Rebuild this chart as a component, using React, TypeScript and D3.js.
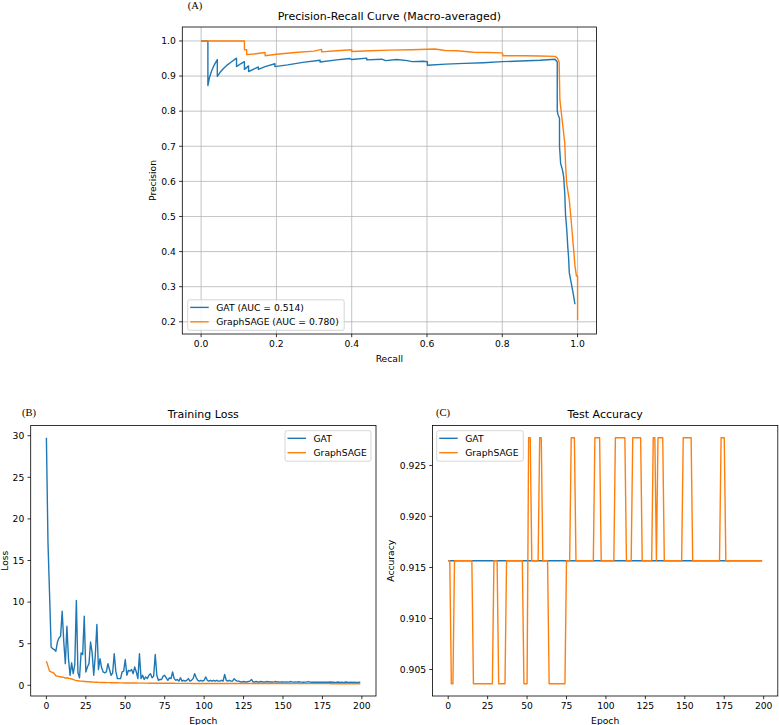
import React from 'react'
import * as d3 from 'd3'

const BLUE = '#1f77b4'
const ORANGE = '#ff7f0e'
const FONT = 'DejaVu Sans, sans-serif'
const SERIF = 'Liberation Serif, Times New Roman, serif'

// (A) precision-recall curve, macro-averaged
const gatRecall = [0.0, 0.018, 0.018, 0.022, 0.028, 0.035, 0.043, 0.043, 0.05, 0.06, 0.07, 0.08, 0.094, 0.094, 0.105, 0.115, 0.115, 0.126, 0.126, 0.14, 0.152, 0.152, 0.17, 0.196, 0.196, 0.23, 0.27, 0.316, 0.316, 0.36, 0.395, 0.4, 0.44, 0.44, 0.48, 0.49, 0.52, 0.548, 0.56, 0.59, 0.601, 0.601, 0.65, 0.7, 0.75, 0.8, 0.85, 0.9, 0.94, 0.946, 0.946, 0.948, 0.952, 0.952, 0.955, 0.96, 0.963, 0.966, 0.968, 0.97, 0.972, 0.974, 0.976, 0.978, 0.985, 0.99, 0.993]
const gatPrecision = [1.0, 1.0, 0.873, 0.895, 0.915, 0.932, 0.947, 0.899, 0.91, 0.922, 0.932, 0.94, 0.951, 0.927, 0.935, 0.941, 0.919, 0.929, 0.913, 0.92, 0.926, 0.919, 0.927, 0.935, 0.927, 0.932, 0.939, 0.945, 0.94, 0.946, 0.95, 0.947, 0.951, 0.946, 0.948, 0.944, 0.947, 0.944, 0.941, 0.942, 0.941, 0.931, 0.934, 0.936, 0.938, 0.941, 0.943, 0.945, 0.948, 0.94, 0.8, 0.79, 0.78, 0.7, 0.651, 0.632, 0.613, 0.565, 0.504, 0.48, 0.45, 0.413, 0.385, 0.34, 0.3, 0.27, 0.25]
const sageRecall = [0.0, 0.115, 0.115, 0.121, 0.121, 0.14, 0.17, 0.17, 0.2, 0.25, 0.3, 0.32, 0.32, 0.36, 0.4, 0.4, 0.45, 0.5, 0.56, 0.621, 0.648, 0.68, 0.723, 0.76, 0.8, 0.802, 0.86, 0.9, 0.94, 0.946, 0.951, 0.953, 0.96, 0.966, 0.968, 0.971, 0.973, 0.978, 0.982, 0.986, 0.99, 0.993, 0.997, 1.0, 1.0]
const sagePrecision = [1.0, 1.0, 0.975, 0.975, 0.961, 0.963, 0.967, 0.958, 0.962, 0.967, 0.971, 0.976, 0.969, 0.972, 0.975, 0.97, 0.972, 0.974, 0.975, 0.977, 0.973, 0.972, 0.968, 0.967, 0.966, 0.958, 0.958, 0.957, 0.956, 0.952, 0.94, 0.832, 0.766, 0.709, 0.65, 0.594, 0.58, 0.547, 0.5, 0.45, 0.4, 0.36, 0.33, 0.33, 0.205]
const prLabels = ['GAT (AUC = 0.514)', 'GraphSAGE (AUC = 0.780)']
const prXTicks = [0.0, 0.2, 0.4, 0.6, 0.8, 1.0]
const prYTicks = [0.2, 0.3, 0.4, 0.5, 0.6, 0.7, 0.8, 0.9, 1.0]

// (B) training loss per epoch
const gatLoss = [
  29.75, 17.2, 11.0, 4.6, 4.4, 4.3, 4.1, 5.2, 5.7, 5.9,
  8.9, 5.3, 2.6, 7.1, 3.2, 1.2, 2.7, 1.4, 2.5, 10.2,
  1.5, 0.9, 3.9, 3.7, 8.3, 1.6, 2.2, 2.6, 5.2, 3.9,
  1.2, 3.6, 7.3, 1.9, 3.2, 2.1, 1.6, 1.5, 1.6, 2.6,
  1.9, 1.2, 1.5, 3.8, 1.7, 0.8, 0.8, 0.8, 1.6, 1.7,
  3.1, 1.2, 1.8, 1.7, 1.9, 1.4, 2.2, 1.6, 0.8, 3.8,
  0.8, 1.2, 0.7, 1.0, 0.8, 1.2, 1.4, 0.9, 1.1, 3.7,
  1.2, 0.6, 0.7, 0.7, 1.1, 1.2, 0.9, 0.6, 0.9, 0.8,
  1.6, 0.8, 0.6, 0.7, 0.5, 0.9, 0.5, 0.6, 0.5, 0.6,
  0.8, 0.5, 0.6, 0.8, 1.4, 0.9, 0.6, 0.5, 0.6, 0.5,
  0.6, 1.0, 0.6, 0.5, 0.6, 0.5, 0.6, 0.5, 0.6, 0.5,
  0.5, 0.6, 0.5, 1.3, 0.6, 0.5, 0.6, 0.5, 0.5, 0.8,
  0.6, 0.5, 0.5, 0.4, 0.4, 0.45, 0.4, 0.4, 0.45, 0.5,
  0.7, 0.4, 0.4, 0.45, 0.4, 0.4, 0.45, 0.4, 0.4, 0.4,
  0.45, 0.4, 0.4, 0.4, 0.38, 0.45, 0.4, 0.4, 0.38, 0.4,
  0.4, 0.38, 0.4, 0.38, 0.4, 0.45, 0.38, 0.38, 0.4, 0.38,
  0.42, 0.38, 0.38, 0.36, 0.38, 0.38, 0.45, 0.38, 0.36, 0.38,
  0.36, 0.38, 0.36, 0.38, 0.36, 0.38, 0.36, 0.36, 0.38, 0.36,
  0.4, 0.36, 0.36, 0.35, 0.36, 0.4, 0.35, 0.36, 0.35, 0.36,
  0.4, 0.35, 0.35, 0.36, 0.35, 0.36, 0.35, 0.35, 0.36, 0.38,
]
const sageLoss = [
  2.9, 2.3, 1.7, 1.6, 1.55, 1.4, 1.15, 1.1, 1.05, 1.0,
  1.0, 0.95, 0.85, 0.9, 0.85, 0.8, 0.75, 0.7, 0.62, 0.58,
  0.55, 0.52, 0.5, 0.48, 0.46, 0.45, 0.43, 0.42, 0.4, 0.39,
  0.38, 0.37, 0.36, 0.35, 0.34, 0.34, 0.33, 0.33, 0.32, 0.32,
  0.32, 0.31, 0.31, 0.3, 0.3, 0.3, 0.29, 0.29, 0.29, 0.28,
  0.28, 0.28, 0.28, 0.27, 0.27, 0.27, 0.27, 0.27, 0.26, 0.26,
  0.26, 0.26, 0.26, 0.26, 0.26, 0.25, 0.25, 0.25, 0.25, 0.25,
  0.25, 0.25, 0.25, 0.24, 0.24, 0.24, 0.24, 0.24, 0.24, 0.24,
  0.24, 0.24, 0.23, 0.23, 0.23, 0.23, 0.23, 0.23, 0.23, 0.23,
  0.23, 0.23, 0.22, 0.22, 0.22, 0.22, 0.22, 0.22, 0.22, 0.22,
  0.22, 0.22, 0.22, 0.22, 0.22, 0.22, 0.22, 0.22, 0.22, 0.22,
  0.22, 0.22, 0.22, 0.22, 0.22, 0.22, 0.22, 0.22, 0.22, 0.22,
  0.21, 0.21, 0.21, 0.21, 0.21, 0.21, 0.21, 0.21, 0.21, 0.21,
  0.21, 0.21, 0.21, 0.21, 0.21, 0.21, 0.21, 0.21, 0.21, 0.21,
  0.21, 0.21, 0.21, 0.21, 0.21, 0.21, 0.21, 0.21, 0.21, 0.21,
  0.2, 0.2, 0.2, 0.2, 0.2, 0.2, 0.2, 0.2, 0.2, 0.2,
  0.2, 0.2, 0.2, 0.2, 0.2, 0.2, 0.2, 0.2, 0.2, 0.2,
  0.2, 0.2, 0.2, 0.2, 0.2, 0.2, 0.2, 0.2, 0.2, 0.2,
  0.19, 0.19, 0.19, 0.19, 0.19, 0.19, 0.19, 0.19, 0.19, 0.19,
  0.19, 0.19, 0.19, 0.19, 0.19, 0.19, 0.19, 0.19, 0.19, 0.19,
]
const lossXTicks = [0, 25, 50, 75, 100, 125, 150, 175, 200]
const lossYTicks = [0, 5, 10, 15, 20, 25, 30]

// (C) test accuracy per epoch (75, 76 or 77 correct out of 83)
const L = 0.90361
const M = 0.91566
const H = 0.92771
const gatAcc = [
  M, M, M, M, M, M, M, M, M, M, M, M, M, M, M, M, M, M, M, M,
  M, M, M, M, M, M, M, M, M, M, M, M, M, M, M, M, M, M, M, M,
  M, M, M, M, M, M, M, M, M, M, M, M, M, M, M, M, M, M, M, M,
  M, M, M, M, M, M, M, M, M, M, M, M, M, M, M, M, M, M, M, M,
  M, M, M, M, M, M, M, M, M, M, M, M, M, M, M, M, M, M, M, M,
  M, M, M, M, M, M, M, M, M, M, M, M, M, M, M, M, M, M, M, M,
  M, M, M, M, M, M, M, M, M, M, M, M, M, M, M, M, M, M, M, M,
  M, M, M, M, M, M, M, M, M, M, M, M, M, M, M, M, M, M, M, M,
  M, M, M, M, M, M, M, M, M, M, M, M, M, M, M, M, M, M, M, M,
  M, M, M, M, M, M, M, M, M, M, M, M, M, M, M, M, M, M, M, M,
]
const sageAcc = [
  M, M, L, L, M, M, M, M, M, M,
  M, M, M, M, M, M, L, L, L, L,
  L, L, L, L, L, L, L, L, L, M,
  M, M, L, L, L, L, L, M, M, M,
  M, M, M, M, M, M, M, M, L, L,
  L, H, H, M, M, M, M, M, H, H,
  M, M, M, M, L, L, L, L, L, L,
  L, L, L, L, L, M, M, M, H, H,
  H, M, M, M, M, M, M, M, M, M,
  M, M, M, H, H, H, H, M, M, M,
  M, M, M, M, M, M, H, H, H, H,
  H, H, H, M, M, M, M, H, H, H,
  H, H, H, M, M, M, M, M, M, M,
  H, H, M, H, H, H, H, M, M, M,
  M, M, M, M, M, M, M, M, M, H,
  H, H, H, H, H, M, M, M, M, M,
  M, M, M, M, M, M, M, M, M, M,
  M, M, M, H, H, H, M, M, M, M,
  M, M, M, M, M, M, M, M, M, M,
  M, M, M, M, M, M, M, M, M, M,
]
const accYTicks = [0.905, 0.91, 0.915, 0.92, 0.925]
const seriesNames = ['GAT', 'GraphSAGE']

// matplotlib-style 5% margins
const padded = (vals: number[]): [number, number] => {
  const [lo, hi] = d3.extent(vals) as [number, number]
  const m = (hi - lo) * 0.05
  return [lo - m, hi + m]
}

type Series = { xs: number[]; ys: number[]; color: string; label: string }

type PanelProps = {
  box: { left: number; right: number; top: number; bottom: number }
  series: Series[]
  xTicks: number[]
  yTicks: number[]
  xFmt: (v: number) => string
  yFmt: (v: number) => string
  grid?: boolean
  title: string
  xLabel: string
  yLabel: string
  yLabelX: number
  legend: { x: number; y: number; w: number }
  tag: string
  tagX: number
  tagY: number
}

function Panel(p: PanelProps) {
  const { box } = p
  const allX = p.series.flatMap(s => s.xs)
  const allY = p.series.flatMap(s => s.ys)
  const x = d3.scaleLinear().domain(padded(allX)).range([box.left, box.right])
  const y = d3.scaleLinear().domain(padded(allY)).range([box.bottom, box.top])
  const line = d3.line<[number, number]>().x(d => x(d[0])).y(d => y(d[1]))
  const fs = 9.2
  const cx = (box.left + box.right) / 2
  const cy = (box.top + box.bottom) / 2
  const clipId = 'clip-' + p.tag.replace(/\W/g, '')
  return (
    <g fontFamily={FONT}>
      <clipPath id={clipId}>
        <rect x={box.left} y={box.top} width={box.right - box.left} height={box.bottom - box.top} />
      </clipPath>
      {p.grid && (
        <g stroke="#b0b0b0" strokeWidth={0.75}>
          {p.xTicks.map(t => (
            <line key={'gx' + t} x1={x(t)} x2={x(t)} y1={box.top} y2={box.bottom} />
          ))}
          {p.yTicks.map(t => (
            <line key={'gy' + t} x1={box.left} x2={box.right} y1={y(t)} y2={y(t)} />
          ))}
        </g>
      )}
      <g clipPath={`url(#${clipId})`}>
        {p.series.map(s => (
          <path
            key={s.label}
            d={line(s.xs.map((v, i) => [v, s.ys[i]] as [number, number])) || ''}
            fill="none"
            stroke={s.color}
            strokeWidth={1.4}
            strokeLinejoin="round"
          />
        ))}
      </g>
      <rect
        x={box.left}
        y={box.top}
        width={box.right - box.left}
        height={box.bottom - box.top}
        fill="none"
        stroke="#000"
        strokeWidth={0.8}
      />
      {p.xTicks.map(t => (
        <g key={'xt' + t}>
          <line x1={x(t)} x2={x(t)} y1={box.bottom} y2={box.bottom + 3.2} stroke="#000" strokeWidth={0.8} />
          <text x={x(t)} y={box.bottom + 13.1} fontSize={fs} textAnchor="middle">
            {p.xFmt(t)}
          </text>
        </g>
      ))}
      {p.yTicks.map(t => (
        <g key={'yt' + t}>
          <line x1={box.left - 3.2} x2={box.left} y1={y(t)} y2={y(t)} stroke="#000" strokeWidth={0.8} />
          <text x={box.left - 6.4} y={y(t) + 3.3} fontSize={fs} textAnchor="end">
            {p.yFmt(t)}
          </text>
        </g>
      ))}
      <text x={cx} y={box.bottom + 27.5} fontSize={fs} textAnchor="middle">
        {p.xLabel}
      </text>
      <text
        transform={`translate(${p.yLabelX},${cy}) rotate(-90)`}
        fontSize={fs}
        textAnchor="middle"
      >
        {p.yLabel}
      </text>
      <text x={cx} y={box.top - 7.5} fontSize={11} textAnchor="middle">
        {p.title}
      </text>
      <text x={p.tagX} y={p.tagY} fontSize={10.5} fontFamily={SERIF}>
        {p.tag}
      </text>
      <g transform={`translate(${p.legend.x},${p.legend.y})`}>
        <rect
          width={p.legend.w}
          height={30.5}
          rx={2}
          fill="#fff"
          fillOpacity={0.8}
          stroke="#cccccc"
          strokeWidth={0.8}
        />
        {p.series.map((s, i) => (
          <g key={'lg' + s.label} transform={`translate(0,${7.6 + i * 14.4})`}>
            <line x1={2.5} x2={21} y1={0} y2={0} stroke={s.color} strokeWidth={1.4} />
            <text x={28.5} y={3.3} fontSize={fs}>
              {s.label}
            </text>
          </g>
        ))}
      </g>
    </g>
  )
}

const epochs = gatLoss.map((_, i) => i)

export default function App() {
  return (
    <div style={{ position: 'absolute', left: 0, top: 0 }}>
      <svg width={779} height={725} style={{ display: 'block', background: '#fff' }}>
        <Panel
          box={{ left: 182.3, right: 596.4, top: 27, bottom: 334 }}
          series={[
            { xs: gatRecall, ys: gatPrecision, color: BLUE, label: prLabels[0] },
            { xs: sageRecall, ys: sagePrecision, color: ORANGE, label: prLabels[1] },
          ]}
          xTicks={prXTicks}
          yTicks={prYTicks}
          xFmt={d3.format('.1f')}
          yFmt={d3.format('.1f')}
          grid
          title="Precision-Recall Curve (Macro-averaged)"
          xLabel="Recall"
          yLabel="Precision"
          yLabelX={155.5}
          legend={{ x: 187.7, y: 299.8, w: 156.5 }}
          tag="(A)"
          tagX={187.7}
          tagY={9}
        />
        <Panel
          box={{ left: 30.7, right: 376, top: 425.5, bottom: 696 }}
          series={[
            { xs: epochs, ys: gatLoss, color: BLUE, label: seriesNames[0] },
            { xs: epochs, ys: sageLoss, color: ORANGE, label: seriesNames[1] },
          ]}
          xTicks={lossXTicks}
          yTicks={lossYTicks}
          xFmt={d3.format('d')}
          yFmt={d3.format('d')}
          title="Training Loss"
          xLabel="Epoch"
          yLabel="Loss"
          yLabelX={7.8}
          legend={{ x: 285, y: 430.7, w: 86 }}
          tag="(B)"
          tagX={22}
          tagY={416}
        />
        <Panel
          box={{ left: 432.5, right: 777.8, top: 425.5, bottom: 696 }}
          series={[
            { xs: epochs, ys: gatAcc, color: BLUE, label: seriesNames[0] },
            { xs: epochs, ys: sageAcc, color: ORANGE, label: seriesNames[1] },
          ]}
          xTicks={lossXTicks}
          yTicks={accYTicks}
          xFmt={d3.format('d')}
          yFmt={d3.format('.3f')}
          title="Test Accuracy"
          xLabel="Epoch"
          yLabel="Accuracy"
          yLabelX={393.9}
          legend={{ x: 436.7, y: 430.7, w: 86.6 }}
          tag="(C)"
          tagX={436}
          tagY={416}
        />
      </svg>
    </div>
  )
}
